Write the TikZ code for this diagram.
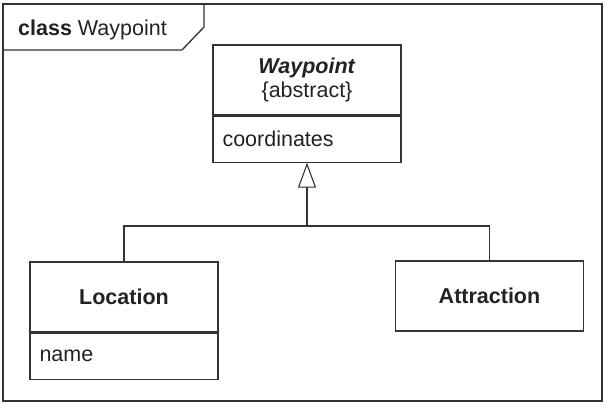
\documentclass[tikz,border=0pt]{standalone}
\usepackage{fontspec}
\setmainfont{Liberation Sans}
\usetikzlibrary{arrows.meta,positioning}
\definecolor{umlline}{RGB}{51,51,51}
\definecolor{umltext}{RGB}{34,34,34}

\tikzset{
  classhead/.style={draw=umlline,line width=1.1pt,minimum width=188pt,minimum height=70pt,
    align=center,inner sep=0pt,text=umltext},
  classattr/.style={draw=umlline,line width=1.1pt,minimum height=46pt,text width=169pt,
    inner xsep=9.5pt,inner ysep=0pt,align=left,text=umltext},
  inherit/.style={draw=umlline,line width=1.1pt,-{Triangle[open,length=25pt,width=18pt]}}
}

\begin{document}
\begin{tikzpicture}[x=1pt,y=-1pt,font=\fontsize{21.5}{24}\selectfont]
  \useasboundingbox (0,0) rectangle (607,405);

  % frame
  \draw[umlline,line width=1.3pt] (3,4) rectangle (602,401);
  \draw[umlline,line width=1.3pt] (3,50) -- (182,50) -- (204,27) -- (204,4);
  \node[anchor=base west,text=umltext,inner sep=0pt] (frametitle) at (18,35) {\textbf{class} Waypoint};

  % Waypoint
  \node[classhead] (wphead) at (307,80) {\textbf{\textit{Waypoint}}\\\{abstract\}};
  \node[classattr,below=0pt of wphead] (wpattr) {coordinates};

  % Location
  \node[classhead] (lochead) at (124,297) {\textbf{Location}};
  \node[classattr,below=0pt of lochead] (locattr) {name};

  % Attraction
  \node[classhead] (attraction) at (489.5,296) {\textbf{Attraction}};

  % generalization
  \coordinate (join) at (307,226);
  \draw[umlline,line width=1.1pt] (lochead.north) |- (join) -| (attraction.north);
  \draw[inherit] (join) -- (wpattr.south);
\end{tikzpicture}
\end{document}
